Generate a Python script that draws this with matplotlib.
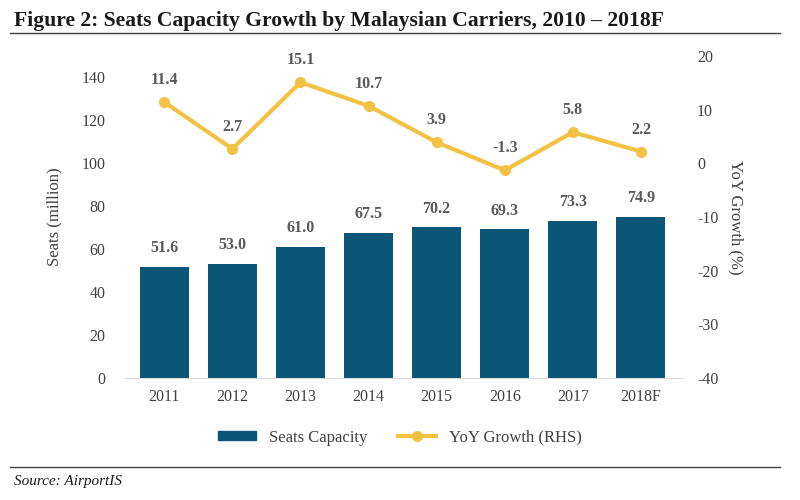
import matplotlib
matplotlib.use("Agg")
import matplotlib.pyplot as plt
from matplotlib.lines import Line2D

years = ["2011", "2012", "2013", "2014", "2015", "2016", "2017", "2018F"]
seats = [51.6, 53.0, 61.0, 67.5, 70.2, 69.3, 73.3, 74.9]
growth = [11.4, 2.7, 15.1, 10.7, 3.9, -1.3, 5.8, 2.2]

plt.rcParams['font.family'] = ['Liberation Serif', 'DejaVu Serif']
plt.rcParams['axes.unicode_minus'] = False
bar_color = '#0B5577'
line_color = '#F3C244'
txt = '#404040'

fig = plt.figure(figsize=(8, 5), dpi=100)
ax = fig.add_axes([0.156, 0.244, 0.698, 0.644])
x = list(range(len(years)))
ax.bar(x, seats, width=0.72, color=bar_color, zorder=2)
ax.set_ylim(0, 150)
ax.set_yticks(range(0, 141, 20))
ax.set_xlim(-0.58, 7.62)
ax.set_xticks(x)
ax.set_xticklabels(years)
for s in ['top', 'right', 'left']:
    ax.spines[s].set_visible(False)
ax.spines['bottom'].set_color('#D9D9D9')
ax.tick_params(axis='both', length=0, labelsize=11.5, colors=txt, pad=8)
ax.tick_params(axis='y', pad=14)
ax.set_ylabel('Seats (million)', fontsize=12, color=txt, labelpad=14)
for xi, v in zip(x, seats):
    ax.text(xi, v + 5, f"{v:.1f}", ha='center', va='bottom', fontsize=11.5,
            fontweight='bold', color='#595959')

ax2 = ax.twinx()
ax2.plot(x, growth, color=line_color, lw=3, marker='o', ms=7, zorder=3)
ax2.set_ylim(-40, 20)
ax2.set_yticks(range(-40, 21, 10))
for s in ['top', 'right', 'left', 'bottom']:
    ax2.spines[s].set_visible(False)
ax2.tick_params(axis='y', length=0, labelsize=11.5, colors=txt, pad=10)
ax2.set_ylabel('YoY Growth (%)', fontsize=12, color=txt, rotation=270, labelpad=18)
for xi, v in zip(x, growth):
    ax2.text(xi, v + 2.6, f"{v:.1f}", ha='center', va='bottom', fontsize=11.5,
             fontweight='bold', color='#595959')

handles = [plt.Rectangle((0, 0), 1, 1, color=bar_color),
           Line2D([0], [0], color=line_color, lw=3, marker='o', ms=7)]
fig.legend(handles, ['Seats Capacity', 'YoY Growth (RHS)'], loc='center',
           bbox_to_anchor=(0.5, 0.125), ncol=2, frameon=False, fontsize=12,
           handlelength=2.3, handleheight=0.5, columnspacing=1.8, labelcolor=txt)

fig.text(0.018, 0.958, 'Figure 2: Seats Capacity Growth by Malaysian Carriers, 2010 \u2013 2018F',
         fontsize=15.6, fontweight='bold', ha='left', va='center', color='#1a1a1a')
fig.add_artist(Line2D([0.012, 0.975], [0.934, 0.934], color='#404040', lw=1))
fig.add_artist(Line2D([0.012, 0.975], [0.066, 0.066], color='#404040', lw=1))
fig.text(0.018, 0.038, 'Source: AirportIS', fontsize=11, fontstyle='italic',
         ha='left', va='center', color='#1a1a1a')

fig.savefig('out.png', dpi=100)
